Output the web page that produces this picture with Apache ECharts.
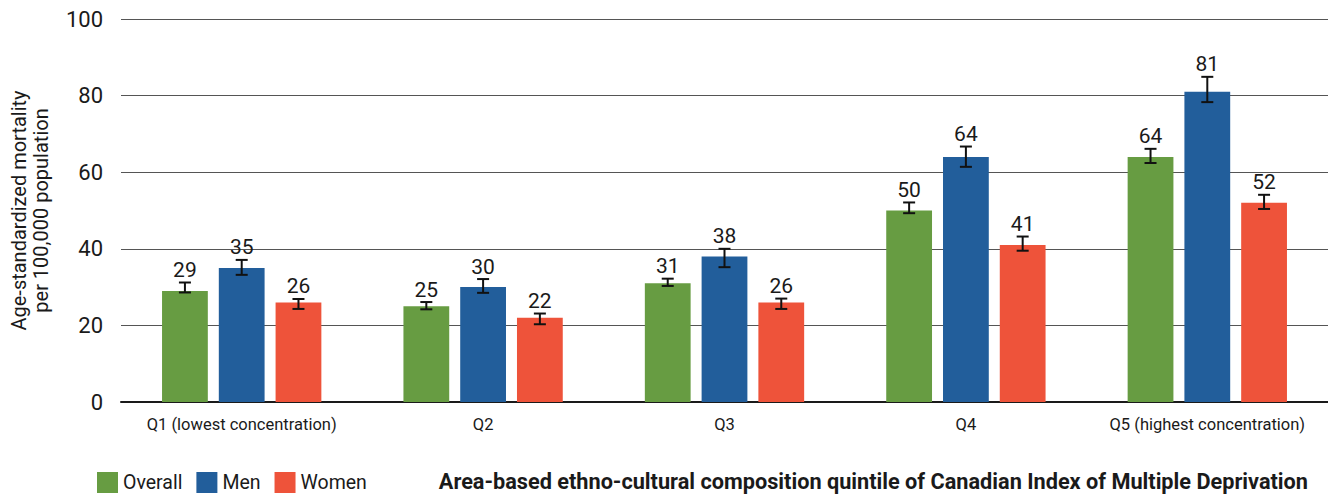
<!DOCTYPE html>
<html>
<head>
<meta charset="utf-8">
<script src="https://cdn.jsdelivr.net/npm/echarts@6/dist/echarts.min.js"></script>
<style>
  html, body { margin: 0; padding: 0; background: #fff; }
  #chart { width: 1328px; height: 496px; }
</style>
</head>
<body>
<div id="chart"></div>
<script>
const categories = ["Q1 (lowest concentration)", "Q2", "Q3", "Q4", "Q5 (highest concentration)"];
const seriesNames = ["Overall", "Men", "Women"];
const overall = [29, 25, 31, 50, 64];
const men = [35, 30, 38, 64, 81];
const women = [26, 22, 26, 41, 52];
// 95% CI [low, high]
const overallCI = [[28.6, 31.2], [24.2, 26.1], [30.3, 32.2], [49.3, 52.1], [62.4, 66.1]];
const menCI = [[33.2, 37.1], [28.5, 32.1], [35.2, 40.0], [61.4, 66.7], [78.3, 84.9]];
const womenCI = [[24.3, 26.9], [20.3, 23.1], [24.3, 27.0], [39.5, 43.2], [50.4, 54.1]];
const yTicks = [0, 20, 40, 60, 80, 100];

const colors = ["#679c42", "#225e9b", "#ee533a"];
const values = [overall, men, women];
const cis = [overallCI, menCI, womenCI];
const FONT = "Roboto, 'Liberation Sans', sans-serif";
const CAT_GAP = 0.34, BAR_GAP = 0.24;

const chart = echarts.init(document.getElementById("chart"), null, { renderer: "svg" });

const errData = [];
values.forEach((vals, s) => {
  vals.forEach((v, i) => {
    errData.push([i, cis[s][i][0], cis[s][i][1], s, v]);
  });
});

function renderError(params, api) {
  const cat = api.value(0);
  const s = api.value(3);
  const bw = api.size([1, 0])[0];
  const barW = bw * (1 - CAT_GAP) / (3 + 2 * BAR_GAP);
  const off = (s - 1) * barW * (1 + BAR_GAP);
  const lo = api.coord([cat, api.value(1)]);
  const hi = api.coord([cat, api.value(2)]);
  const x = lo[0] + off;
  const cap = 6;
  const style = { stroke: "#111", lineWidth: 2 };
  return {
    type: "group",
    children: [
      { type: "line", shape: { x1: x, y1: lo[1], x2: x, y2: hi[1] }, style },
      { type: "line", shape: { x1: x - cap, y1: lo[1], x2: x + cap, y2: lo[1] }, style },
      { type: "line", shape: { x1: x - cap, y1: hi[1], x2: x + cap, y2: hi[1] }, style },
      {
        type: "text",
        style: {
          x: x, y: hi[1] - 2,
          text: String(api.value(4)),
          align: "center", verticalAlign: "bottom",
          fill: "#1a1a1a", font: "21px " + FONT
        }
      }
    ]
  };
}

chart.setOption({
  animation: false,
  backgroundColor: "#fff",
  grid: { left: 121, right: 0, top: 19, bottom: 94, outerBoundsMode: "none" },
  legend: {
    left: 97, bottom: 3, padding: 0,
    itemWidth: 21, itemHeight: 21, itemGap: 14,
    icon: "rect",
    data: seriesNames,
    textStyle: { fontFamily: FONT, fontSize: 19.5, color: "#1a1a1a", padding: [2, 0, 0, 0] }
  },
  graphic: [{
    type: "text",
    right: 20, bottom: 4,
    style: {
      text: "Area-based ethno-cultural composition quintile of Canadian Index of Multiple Deprivation",
      font: "bold 21.7px " + FONT, fill: "#1a1a1a"
    }
  }],
  xAxis: {
    type: "category",
    data: categories,
    axisTick: { show: false },
    axisLine: { lineStyle: { color: "#1a1a1a", width: 2 } },
    axisLabel: { interval: 0, color: "#1a1a1a", fontFamily: FONT, fontSize: 16.5, margin: 14 }
  },
  yAxis: {
    type: "value",
    min: yTicks[0], max: yTicks[yTicks.length - 1], interval: 20,
    name: "Age-standardized mortality\nper 100,000 population",
    nameLocation: "middle", nameGap: 69, nameRotate: 90,
    nameTextStyle: { color: "#1a1a1a", fontFamily: FONT, fontSize: 20, lineHeight: 22 },
    axisLine: { show: false },
    axisTick: { show: false },
    axisLabel: { color: "#1a1a1a", fontFamily: FONT, fontSize: 22, margin: 18 },
    splitLine: { lineStyle: { color: "#555", width: 1 } }
  },
  series: [
    ...seriesNames.map((name, s) => ({
      name, type: "bar",
      data: values[s],
      itemStyle: { color: colors[s] },
      barCategoryGap: (CAT_GAP * 100) + "%",
      barGap: (BAR_GAP * 100) + "%"
    })),
    {
      type: "custom",
      renderItem: renderError,
      data: errData,
      encode: { x: 0, y: [1, 2] },
      z: 10,
      silent: true
    }
  ]
});
</script>
</body>
</html>
